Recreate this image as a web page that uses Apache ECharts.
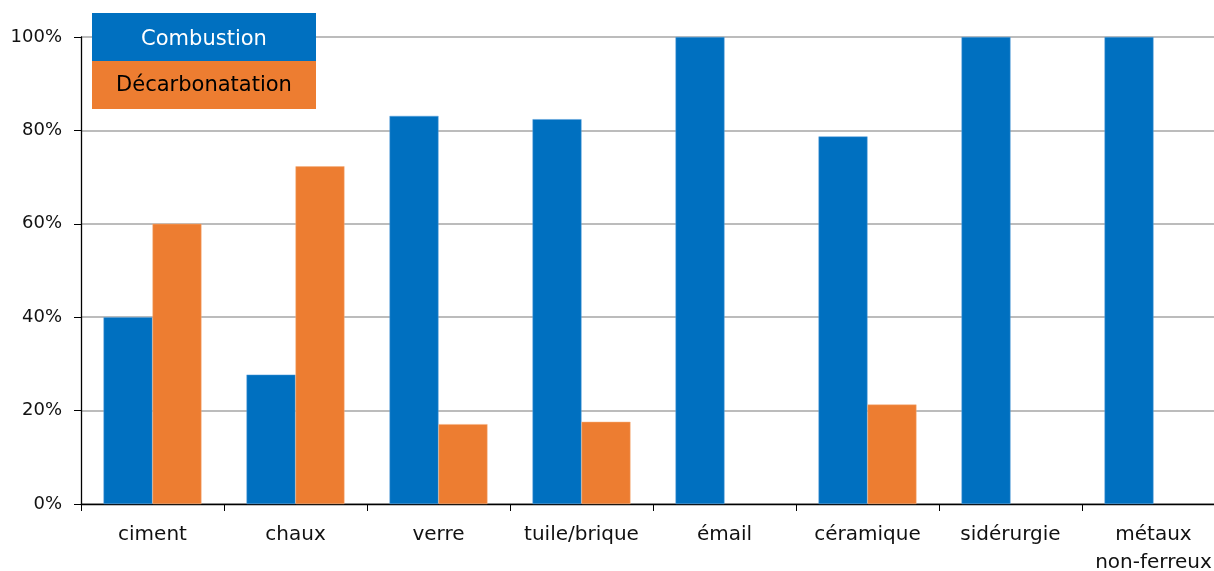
<!DOCTYPE html>
<html><head><meta charset="utf-8">
<script src="https://cdn.jsdelivr.net/npm/echarts@6/dist/echarts.min.js"></script>
<style>html,body{margin:0;padding:0;background:#fff;overflow:hidden}#c{width:1214px;height:571px}</style>
</head><body><div id="c"></div>
<script>
const categories = ['ciment','chaux','verre','tuile/brique','émail','céramique','sidérurgie','métaux\nnon-ferreux'];
const seriesNames = ['Combustion','Décarbonatation'];
const combustion = [40, 27.7, 83.1, 82.4, 100, 78.7, 100, 100];
const decarbonatation = [60, 72.3, 17.1, 17.6, null, 21.3, null, null];
const yTicks = [0, 20, 40, 60, 80, 100];
const colors = ['#0070C0', '#ED7D31'];
const FONT = '"DejaVu Sans", sans-serif';

const chart = echarts.init(document.getElementById('c'));
chart.setOption({
  animation: false,
  grid: { left: 81, width: 1144, top: 37, height: 467, containLabel: false, outerBoundsMode: 'none' },
  xAxis: {
    type: 'category', data: categories,
    axisLine: { lineStyle: { color: '#000', width: 1.3 } },
    axisTick: { show: true, length: 7, lineStyle: { color: '#000' } },
    axisLabel: { color: '#111', fontSize: 20, fontFamily: FONT, margin: 17, lineHeight: 28, interval: 0 }
  },
  yAxis: {
    type: 'value', min: yTicks[0], max: yTicks[yTicks.length - 1], interval: 20,
    axisLine: { show: true, lineStyle: { color: '#000', width: 1.3 } },
    axisTick: { show: true, length: 7, lineStyle: { color: '#000' } },
    axisLabel: { color: '#111', fontSize: 18, fontFamily: FONT, margin: 19, formatter: v => v + '%' },
    splitLine: { lineStyle: { color: '#A6A6A6', width: 1.5 } }
  },
  series: [
    { name: seriesNames[0], type: 'bar', data: combustion, barGap: '0%', barCategoryGap: '31.5%',
      itemStyle: { color: colors[0], borderColor: '#5aa0dc', borderWidth: 0.5 } },
    { name: seriesNames[1], type: 'bar', data: decarbonatation, barGap: '0%', barCategoryGap: '31.5%',
      itemStyle: { color: colors[1], borderColor: '#f5b07f', borderWidth: 0.5 } }
  ],
  graphic: [
    { type: 'rect', x: 92, y: 13, shape: { width: 224, height: 48 }, style: { fill: colors[0] }, z: 10 },
    { type: 'text', x: 204, y: 40, z: 11,
      style: { text: seriesNames[0], align: 'center', verticalAlign: 'middle', fill: '#fff', font: '21px ' + FONT } },
    { type: 'rect', x: 92, y: 61, shape: { width: 224, height: 48 }, style: { fill: colors[1] }, z: 10 },
    { type: 'text', x: 204, y: 86, z: 11,
      style: { text: seriesNames[1], align: 'center', verticalAlign: 'middle', fill: '#000', font: '21px ' + FONT } }
  ]
});
</script></body></html>
